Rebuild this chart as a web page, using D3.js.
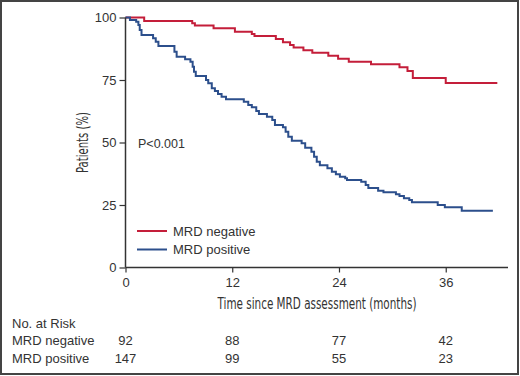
<!DOCTYPE html>
<html>
<head>
<meta charset="utf-8">
<script src="https://cdn.jsdelivr.net/npm/d3@7"></script>
<style>
  html, body { margin: 0; padding: 0; background: #fff; }
  svg { display: block; }
  .lbl { font-family: "Liberation Sans", Arial, sans-serif; fill: #333; }
  .narrow { font-family: "Liberation Sans Narrow", "DejaVu Sans Condensed", "Liberation Sans", sans-serif; fill: #333; }
</style>
</head>
<body>
<div id="chart"></div>
<script>
// Kaplan-Meier steps: [months, % patients]
const mrdNegative = [
  [0, 100], [2.1, 98.6], [7.5, 97.7], [7.8, 96.8], [9.9, 95.7], [12.3, 94.3],
  [14.2, 93.4], [14.5, 92.6], [16.9, 91.4], [17.7, 90.1], [18.5, 89.0], [18.9, 88.0],
  [20.0, 86.9], [21.0, 85.9], [22.8, 84.7], [23.9, 83.5], [25.1, 82.3], [27.6, 81.3],
  [30.8, 80.1], [31.7, 78.6], [32.3, 75.8], [36.0, 73.8], [41.8, 73.8]
];
const mrdPositive = [
  [0, 100], [0.5, 99], [1.2, 98.3], [1.45, 97], [1.6, 95], [1.8, 93], [3.1, 91.7],
  [3.4, 90.3], [3.7, 88.6], [5.5, 86.3], [5.75, 84.3], [6.7, 83.3], [7.3, 82.3],
  [7.55, 80.3], [7.7, 78.3], [7.9, 76.6], [9.05, 75], [9.3, 73.7], [9.7, 71.7],
  [10.05, 70.6], [10.4, 69.4], [10.8, 68.3], [11.3, 67.3], [13.3, 66.3], [13.8, 65],
  [14.2, 64.1], [14.7, 62.6], [15.0, 61.4], [15.9, 60.3], [16.5, 59], [16.8, 57],
  [17.7, 56.1], [18.0, 54.3], [18.3, 52.3], [18.7, 50.7], [19.8, 49.7], [20.2, 47.9],
  [20.9, 46.3], [21.2, 44.3], [21.5, 42.3], [21.85, 40.9], [22.7, 39.7], [23.2, 38.3],
  [23.65, 37.3], [24.1, 36.3], [24.7, 35.7], [24.9, 35.0], [26.5, 34.3], [27.0, 33],
  [27.3, 31.8], [28.4, 30.7], [29.0, 30.1], [30.4, 29.3], [30.8, 28.6], [31.3, 27.7],
  [31.9, 27.0], [32.2, 26.1], [35.1, 25], [35.9, 24.1], [37.8, 22.7], [41.3, 22.7]
];
const xTicks = [0, 12, 24, 36];
const yTicks = [0, 25, 50, 75, 100];
const groups = ['MRD negative', 'MRD positive'];
const atRiskNegative = [92, 88, 77, 42];
const atRiskPositive = [147, 99, 55, 23];

const W = 520, H = 376;
const margin = { top: 17.5, right: 12, bottom: 108.5, left: 125.5 };
const colors = { 'MRD negative': '#c41e3a', 'MRD positive': '#2c4f8c' };

const svg = d3.select('#chart').append('svg').attr('width', W).attr('height', H);

// outer frame
svg.append('rect')
  .attr('x', 1).attr('y', 1).attr('width', W - 3).attr('height', H - 3)
  .attr('fill', 'none').attr('stroke', '#444').attr('stroke-width', 2);

const x = d3.scaleLinear().domain([0, 43]).range([margin.left, W - margin.right]);
const y = d3.scaleLinear().domain([0, 100]).range([H - margin.bottom, margin.top]);

const line = d3.line().x((d) => x(d[0])).y((d) => y(d[1])).curve(d3.curveStepAfter);

[[mrdNegative, groups[0]], [mrdPositive, groups[1]]].forEach(([data, key]) => {
  svg.append('path')
    .datum(data)
    .attr('fill', 'none')
    .attr('stroke', colors[key])
    .attr('stroke-width', 2)
    .attr('d', line);
});

// axes
const xAxis = svg.append('g')
  .attr('transform', `translate(0,${y(0)})`)
  .call(d3.axisBottom(x).tickValues(xTicks).tickSize(5).tickPadding(5));
const yAxis = svg.append('g')
  .attr('transform', `translate(${x(0)},0)`)
  .call(d3.axisLeft(y).tickValues(yTicks).tickSize(6).tickPadding(3));

[xAxis, yAxis].forEach((g) => {
  g.select('.domain').attr('stroke', '#333').attr('stroke-width', 1.5);
  g.selectAll('.tick line').attr('stroke', '#333').attr('stroke-width', 1.2);
  g.selectAll('.tick text')
    .attr('class', 'lbl')
    .style('font-size', '13px')
    .attr('fill', '#333');
});
xAxis.select('.domain').attr('d', `M${x(0)},0H${x(43)}`);
yAxis.select('.domain').attr('d', `M0,${y(0)}V${y(100)}`);

// axis titles (condensed face in the original, squeezed to its width)
svg.append('text')
  .attr('class', 'narrow')
  .attr('text-anchor', 'middle')
  .attr('transform', `translate(83,${(y(0) + y(100)) / 2}) rotate(-90)`)
  .attr('dy', '0.35em')
  .attr('textLength', 61)
  .attr('lengthAdjust', 'spacingAndGlyphs')
  .style('font-size', '15px')
  .text('Patients (%)');

svg.append('text')
  .attr('class', 'narrow')
  .attr('text-anchor', 'middle')
  .attr('x', 317)
  .attr('y', 309)
  .attr('textLength', 199)
  .attr('lengthAdjust', 'spacingAndGlyphs')
  .style('font-size', '15px')
  .text('Time since MRD assessment (months)');

svg.append('text')
  .attr('class', 'lbl')
  .attr('x', 138).attr('y', 144).attr('dy', '0.35em')
  .style('font-size', '12.5px')
  .text('P<0.001');

// legend
const legend = svg.append('g').attr('transform', 'translate(137,231)');
groups.forEach((key, i) => {
  const g = legend.append('g').attr('transform', `translate(0,${i * 18.5})`);
  g.append('line').attr('x1', 0).attr('x2', 30)
    .attr('stroke', colors[key]).attr('stroke-width', 2);
  g.append('text').attr('class', 'lbl')
    .attr('x', 36).attr('dy', '0.35em')
    .style('font-size', '13px')
    .text(key);
});

// numbers at risk table
svg.append('text').attr('class', 'lbl')
  .attr('x', 12).attr('y', 323).attr('dy', '0.35em')
  .style('font-size', '13px').text('No. at Risk');

[[groups[0], atRiskNegative, 340.5], [groups[1], atRiskPositive, 358]].forEach(([key, vals, yy]) => {
  svg.append('text').attr('class', 'lbl')
    .attr('x', 12).attr('y', yy).attr('dy', '0.35em')
    .style('font-size', '13px').text(key);
  svg.append('g').selectAll('text')
    .data(vals)
    .join('text')
    .attr('class', 'lbl')
    .attr('text-anchor', 'middle')
    .attr('x', (d, i) => x(xTicks[i]))
    .attr('y', yy).attr('dy', '0.35em')
    .style('font-size', '13px')
    .text((d) => d);
});
</script>
</body>
</html>
